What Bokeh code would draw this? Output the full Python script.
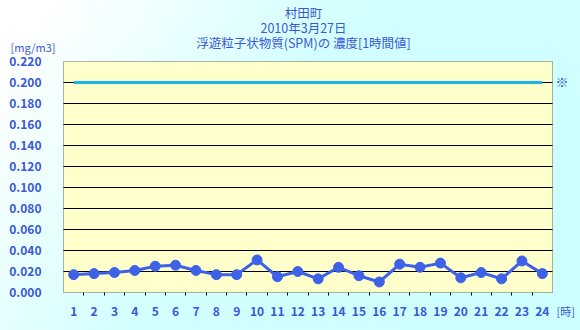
from bokeh.plotting import figure
from bokeh.models import Range1d, FixedTicker, Label, BoxAnnotation, NumeralTickFormatter
from bokeh.embed import file_html
from bokeh.resources import INLINE

hours = list(range(1, 25))
spm = [0.017, 0.018, 0.019, 0.021, 0.025, 0.026, 0.021, 0.017, 0.017, 0.031,
       0.015, 0.020, 0.013, 0.024, 0.016, 0.010, 0.027, 0.024, 0.028, 0.014,
       0.019, 0.013, 0.030, 0.018]
standard = 0.200
y_ticks = [0.0, 0.02, 0.04, 0.06, 0.08, 0.10, 0.12, 0.14, 0.16, 0.18, 0.20, 0.22]
title_lines = ["村田町", "2010年3月27日", "浮遊粒子状物質(SPM)の 濃度[1時間値]"]
unit_label = "[mg/m3]"
x_unit = "[時]"
mark = "※"

FONT = "Noto Sans CJK JP"
TXT = "#3858D8"

# layout in pixels (plot box inside the 580x330 canvas)
W, H = 580, 330
BOX_L, BOX_R, BOX_T, BOX_B = 63, 552, 61, 292
x_lo, x_hi = hours[0] - 0.5, hours[-1] + 0.5
y_lo, y_hi = y_ticks[0], y_ticks[-1]
px_per_x = (BOX_R - BOX_L) / (x_hi - x_lo)
px_per_y = (BOX_B - BOX_T) / (y_hi - y_lo)

def x_at(px):
    return x_lo + (px - BOX_L) / px_per_x

def y_at(py):
    return y_lo + (BOX_B - py) / px_per_y

p = figure(width=W, height=H, output_backend="svg", toolbar_location=None,
           x_range=Range1d(x_at(0), x_at(W)), y_range=Range1d(y_at(H), y_at(0)),
           min_border_left=0, min_border_right=0, min_border_top=0, min_border_bottom=0)
p.styles = {"background": "linear-gradient(125deg, #FFFFFF 0%, #FFFFFF 6%, #D2FFFF 45%, #CCFFFF 100%)"}
p.border_fill_color = None
p.background_fill_color = None
p.outline_line_color = None
p.grid.visible = False

p.add_layout(BoxAnnotation(left=x_lo, right=x_hi, bottom=y_lo, top=y_hi,
                           fill_color="#FFFFCC", fill_alpha=1.0,
                           line_color="black", line_width=1, level="underlay"))

grid_vals = y_ticks[1:-1]
p.segment(x0=[x_lo] * len(grid_vals), x1=[x_hi] * len(grid_vals),
          y0=grid_vals, y1=grid_vals, line_color="black", line_width=1)

p.yaxis.fixed_location = x_lo
p.yaxis.ticker = FixedTicker(ticks=y_ticks)
p.yaxis.formatter = NumeralTickFormatter(format="0.000")
p.yaxis.major_tick_line_color = None
p.yaxis.minor_tick_line_color = None
p.yaxis.axis_line_color = None
p.yaxis.major_label_text_color = TXT
p.yaxis.major_label_text_font = FONT
p.yaxis.major_label_text_font_style = "bold"
p.yaxis.major_label_text_font_size = "12px"
p.yaxis.major_label_standoff = 16

p.xaxis.fixed_location = y_lo
p.xaxis.ticker = FixedTicker(ticks=hours, minor_ticks=[h + 0.5 for h in hours[:-1]])
p.xaxis.major_tick_line_color = None
p.xaxis.minor_tick_line_color = "black"
p.xaxis.minor_tick_in = 0
p.xaxis.minor_tick_out = 3
p.xaxis.axis_line_color = None
p.xaxis.major_label_text_color = TXT
p.xaxis.major_label_text_font = FONT
p.xaxis.major_label_text_font_style = "bold"
p.xaxis.major_label_text_font_size = "12px"
p.xaxis.major_label_standoff = 8

p.line([hours[0], hours[-1]], [standard, standard], line_color="#1EB4E6", line_width=3)
p.line(hours, spm, line_color="#3D62E8", line_width=3)
p.scatter(hours, spm, size=10, fill_color="#3D62E8", line_color="#3D62E8")

def lab(text, px, py, size="11px", align="left"):
    p.add_layout(Label(x=x_at(px), y=y_at(py), text=text, text_color=TXT, text_font=FONT,
                       text_font_size=size, text_align=align, text_baseline="middle"))

for t, py in zip(title_lines, [12, 27, 42]):
    lab(t, 303, py, size="12.5px", align="center")
lab(unit_label, 10, 46)
lab(x_unit, 556, 310)
lab(mark, 555, 81, size="13px")

open("out.html", "w").write(file_html(p, INLINE))
